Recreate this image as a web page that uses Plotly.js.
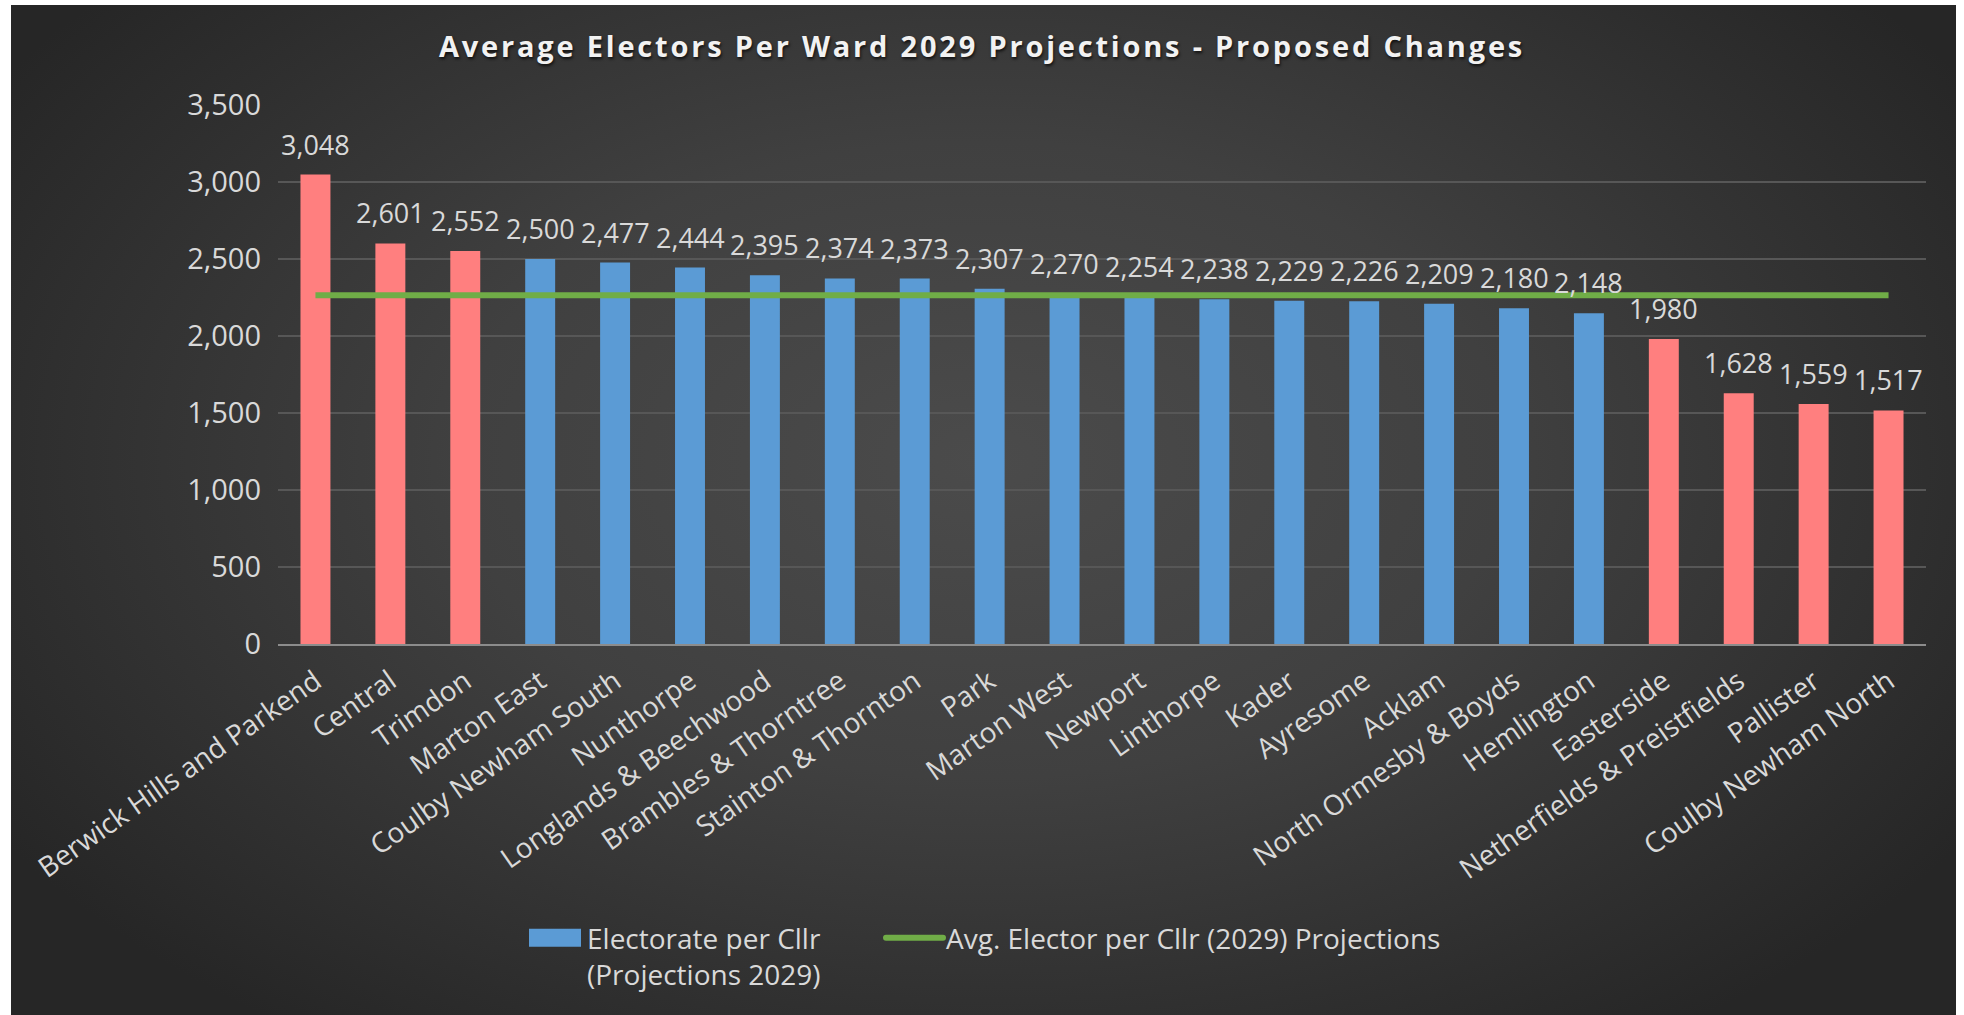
<!DOCTYPE html>
<html>
<head>
<meta charset="utf-8">
<script src="https://cdn.plot.ly/plotly-3.0.1.min.js"></script>
<style>
  html, body { margin: 0; padding: 0; background: #ffffff; width: 1964px; height: 1015px; overflow: hidden; }
  #bg { position: absolute; left: 11px; top: 5px; width: 1945px; height: 1010px;
        background: radial-gradient(ellipse 60% 70% at 50% 45%, #4b4b4b 0%, #404040 45%, #2d2d2d 85%, #262626 100%); }
  #chart { position: absolute; left: 0; top: 0; width: 1964px; height: 1015px; }
  .gtitle { letter-spacing: 2.8px; }
</style>
</head>
<body>
<div id="bg"></div>
<div id="chart"></div>
<script>
const categories = [
  "Berwick Hills and Parkend", "Central", "Trimdon", "Marton East", "Coulby Newham South",
  "Nunthorpe", "Longlands & Beechwood", "Brambles & Thorntree", "Stainton & Thornton", "Park",
  "Marton West", "Newport", "Linthorpe", "Kader", "Ayresome", "Acklam",
  "North Ormesby & Boyds", "Hemlington", "Easterside", "Netherfields & Preistfields",
  "Pallister", "Coulby Newham North"
];
const electoratePerCllr = [3048, 2601, 2552, 2500, 2477, 2444, 2395, 2374, 2373, 2307,
  2270, 2254, 2238, 2229, 2226, 2209, 2180, 2148, 1980, 1628, 1559, 1517];
const avgElectorPerCllr = [2265, 2265, 2265, 2265, 2265, 2265, 2265, 2265, 2265, 2265,
  2265, 2265, 2265, 2265, 2265, 2265, 2265, 2265, 2265, 2265, 2265, 2265];
// colour group per ward: "out" = outside tolerance (red), "in" = within (blue)
const wardGroup = ["out", "out", "out", "in", "in", "in", "in", "in", "in", "in",
  "in", "in", "in", "in", "in", "in", "in", "in", "out", "out", "out", "out"];

const BLUE = "#5b9bd5";
const RED = "#ff7f7f";
const GREEN = "#70ad47";
const TEXT = "#d9d9d9";
const FONT = "'Open Sans', Lato, sans-serif";

const barColors = wardGroup.map(g => g === "out" ? RED : BLUE);

const traces = [
  {
    type: "bar",
    x: [categories[0]],
    y: [null],
    name: "Electorate per Cllr<br>(Projections 2029)",
    marker: { color: BLUE },
    hoverinfo: "skip",
    showlegend: true,
    legend: "legend"
  },
  {
    type: "bar",
    x: categories,
    y: electoratePerCllr,
    name: "Electorate per Cllr (Projections 2029)",
    marker: { color: barColors },
    showlegend: false
  },
  {
    type: "scatter",
    mode: "lines",
    x: categories,
    y: avgElectorPerCllr,
    name: "Avg. Elector per Cllr (2029) Projections",
    line: { color: GREEN, width: 6 },
    legend: "legend2"
  }
];

const annotations = categories.map((c, i) => ({
  x: c,
  y: electoratePerCllr[i],
  xref: "x",
  yref: "y",
  text: electoratePerCllr[i].toLocaleString("en-GB"),
  showarrow: false,
  yanchor: "bottom",
  yshift: 10,
  font: { family: FONT, size: 27, color: TEXT }
}));

const legendCommon = {
  orientation: "h",
  xanchor: "left",
  y: (644 - 913) / 539,
  yanchor: "top",
  valign: "top",
  font: { family: FONT, size: 28, color: TEXT },
  bgcolor: "rgba(0,0,0,0)"
};

const layout = {
  width: 1964,
  height: 1015,
  margin: { l: 278, r: 38, t: 105, b: 371 },
  paper_bgcolor: "rgba(0,0,0,0)",
  plot_bgcolor: "rgba(0,0,0,0)",
  barmode: "overlay",
  bargap: 0.6,
  font: { family: FONT, size: 27, color: TEXT },
  title: {
    text: "Average Electors Per Ward 2029 Projections - Proposed Changes",
    font: { family: FONT, size: 29, color: "#f2f2f2", weight: "bold", shadow: "1px 2px 3px rgba(0,0,0,0.7)" },
    x: 0.5, xref: "container", xanchor: "center",
    y: 1 - 47 / 1015, yref: "container", yanchor: "middle"
  },
  xaxis: {
    type: "category",
    tickangle: -35,
    tickfont: { family: FONT, size: 28, color: TEXT },
    showgrid: false,
    showline: true,
    linecolor: "#8c8c8c",
    linewidth: 2,
    ticks: "",
    ticklabelstandoff: 8,
    fixedrange: true
  },
  yaxis: {
    range: [0, 3500],
    dtick: 500,
    tickformat: ",",
    tickfont: { family: FONT, size: 29, color: TEXT },
    gridcolor: "#575757",
    gridwidth: 1.5,
    zeroline: false,
    ticks: "",
    ticklabelstandoff: 16,
    fixedrange: true
  },
  legend: Object.assign({}, legendCommon, { x: (547 - 278) / 1648 }),
  legend2: Object.assign({}, legendCommon, { x: (906 - 278) / 1648 }),
  annotations: annotations,
  showlegend: true
};

function fixLegendSwatches(gd) {
  // Excel-like legend swatches: wide rectangle for the bars, long line for the average
  const legends = gd.querySelectorAll("g.legend, g.legend2");
  legends.forEach(lg => {
    lg.removeAttribute("clip-path");
    lg.querySelectorAll("[clip-path]").forEach(el => el.removeAttribute("clip-path"));
    lg.querySelectorAll("g.traces").forEach(tr => {
      tr.querySelectorAll("g.legendpoints path").forEach(p => {
        p.setAttribute("d", "M-38,-9H14V9H-38Z");
      });
      tr.querySelectorAll("g.legendlines path").forEach(p => {
        p.setAttribute("d", "M-20,0h57");
        p.style.strokeLinecap = "round";
      });
    });
  });
}

const gdEl = document.getElementById("chart");
Plotly.newPlot(gdEl, traces, layout, { displayModeBar: false, staticPlot: true }).then(gd => {
  fixLegendSwatches(gd);
  gd.on("plotly_afterplot", () => fixLegendSwatches(gd));
  setTimeout(() => fixLegendSwatches(gd), 50);
  setTimeout(() => fixLegendSwatches(gd), 300);
});
</script>
</body>
</html>
